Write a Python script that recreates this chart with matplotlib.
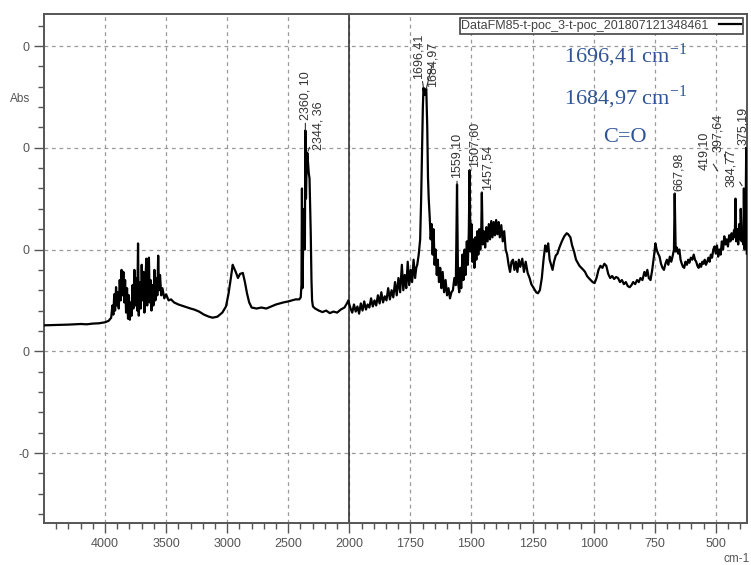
import numpy as np
import matplotlib
matplotlib.use("Agg")
from matplotlib import pyplot as plt
from matplotlib.ticker import FixedLocator

# spectrum (wavenumber cm-1, absorbance)
wavenumbers = [
    4500, 4400, 4300, 4200, 4150, 4100, 4050, 4000, 3970, 3950,
    3940, 3932, 3925, 3918, 3910, 3903, 3895, 3888, 3880, 3872,
    3865, 3858, 3850, 3843, 3836, 3828, 3820, 3812, 3805, 3797,
    3790, 3782, 3775, 3768, 3760, 3752, 3745, 3737, 3730, 3724,
    3716, 3708, 3700, 3692, 3685, 3678, 3670, 3662, 3655, 3648,
    3641, 3634, 3627, 3620, 3612, 3604, 3596, 3588, 3580, 3572,
    3565, 3558, 3550, 3540, 3530, 3515, 3500, 3480, 3460, 3435,
    3400, 3350, 3300, 3270, 3230, 3190, 3150, 3120, 3080, 3040,
    3010, 2990, 2970, 2955, 2945, 2930, 2912, 2895, 2872, 2855,
    2838, 2820, 2800, 2760, 2720, 2680, 2640, 2600, 2570, 2540,
    2500, 2470, 2440, 2410, 2398, 2392, 2388, 2384, 2376, 2370,
    2364, 2360, 2355, 2350, 2344, 2338, 2332, 2326, 2320, 2316,
    2310, 2305, 2298, 2280, 2250, 2220, 2190, 2160, 2130, 2100,
    2070, 2040, 2020, 2008, 2000,
    1995, 1988, 1981, 1974, 1967, 1960, 1953, 1946, 1939, 1932,
    1925, 1918, 1911, 1904, 1897, 1890, 1883, 1876, 1869, 1862,
    1855, 1848, 1841, 1834, 1827, 1820, 1813, 1806, 1799, 1792,
    1785, 1779, 1773, 1767, 1761, 1755, 1749, 1743, 1737, 1731,
    1726, 1722, 1716, 1710, 1706, 1702, 1699, 1696.41, 1692, 1688,
    1684.97, 1681, 1678, 1675, 1671, 1667, 1663, 1659, 1655, 1651,
    1647, 1642, 1638, 1633, 1628, 1623, 1618, 1612, 1606, 1600,
    1594, 1588, 1582, 1576, 1570, 1564, 1559.10, 1555, 1550, 1546,
    1542, 1537, 1533, 1528, 1524, 1519, 1515, 1511, 1507.60, 1504,
    1500, 1496, 1492, 1488, 1484, 1480, 1476, 1472, 1468, 1464,
    1460, 1457.54, 1454, 1449, 1444, 1439, 1434, 1429, 1424, 1419,
    1414, 1409, 1404, 1399, 1394, 1389, 1384, 1378, 1372, 1366,
    1360, 1354, 1348, 1342, 1336, 1330, 1324, 1318, 1312, 1306,
    1300, 1292, 1285, 1278, 1270, 1262, 1255, 1245, 1235, 1228,
    1220, 1212, 1205, 1198, 1192, 1186, 1180, 1174, 1168, 1162,
    1155, 1148, 1140, 1130, 1120, 1110, 1104, 1095, 1088, 1080,
    1072, 1065, 1058, 1050, 1042, 1035, 1027, 1020, 1012, 1004,
    996, 988, 980, 972, 964, 956, 948, 940, 932, 924,
    916, 908, 900, 892, 884, 876, 868, 860, 852, 845,
    838, 830, 822, 815, 808, 800, 792, 786, 780, 774,
    767, 760, 752, 747, 742, 736, 730, 724, 718, 712,
    706, 700, 694, 688, 682, 676, 671, 667.98, 664, 659,
    654, 649, 644, 639, 634, 629, 624, 618, 613, 608,
    602, 596, 590, 585, 580, 575, 570, 565, 560, 555,
    550, 545, 540, 535, 530, 525, 520, 515, 510, 505,
    500, 495, 490, 485, 480, 475, 470, 465, 460, 455,
    450, 445, 440, 435, 430, 425, 422, 419.10, 416, 412,
    408, 404, 400, 397.64, 394, 390, 387, 384.77, 382, 378.5,
    375.19, 373,
]
absorbance = [
    0.0255, 0.0258, 0.0262, 0.0268, 0.0265, 0.0272, 0.0275, 0.0285, 0.0300, 0.0330,
    0.0450, 0.0360, 0.0560, 0.0400, 0.0630, 0.0450, 0.0580, 0.0420, 0.0700, 0.0500,
    0.0800, 0.0550, 0.0780, 0.0480, 0.0700, 0.0380, 0.0620, 0.0320, 0.0550, 0.0310,
    0.0480, 0.0350, 0.0650, 0.0420, 0.0800, 0.0450, 0.0720, 0.0400, 0.1060, 0.0350,
    0.0680, 0.0420, 0.0850, 0.0500, 0.0780, 0.0380, 0.0700, 0.0910, 0.0450, 0.0750,
    0.0920, 0.0480, 0.0700, 0.0400, 0.0650, 0.0450, 0.0800, 0.0500, 0.0720, 0.0550,
    0.0940, 0.0600, 0.0750, 0.0550, 0.0620, 0.0520, 0.0560, 0.0500, 0.0510, 0.0480,
    0.0460, 0.0440, 0.0420, 0.0410, 0.0390, 0.0360, 0.0340, 0.0330, 0.0340, 0.0380,
    0.0440, 0.0560, 0.0720, 0.0850, 0.0820, 0.0780, 0.0720, 0.0760, 0.0770, 0.0680,
    0.0570, 0.0480, 0.0430, 0.0420, 0.0430, 0.0420, 0.0440, 0.0460, 0.0470, 0.0480,
    0.0490, 0.0500, 0.0510, 0.0510, 0.0530, 0.0650, 0.1600, 0.0620, 0.1200, 0.1400,
    0.1000, 0.2170, 0.1500, 0.1800, 0.1950, 0.1850, 0.1750, 0.1700, 0.1400, 0.1160,
    0.0700, 0.0500, 0.0440, 0.0420, 0.0400, 0.0385, 0.0400, 0.0375, 0.0390, 0.0380,
    0.0410, 0.0430, 0.0470, 0.0500, 0.0460,
    0.042, 0.038, 0.046, 0.039, 0.044, 0.037, 0.047, 0.040, 0.049, 0.041,
    0.046, 0.043, 0.052, 0.044, 0.050, 0.045, 0.055, 0.047, 0.058, 0.048,
    0.054, 0.050, 0.062, 0.051, 0.060, 0.053, 0.068, 0.055, 0.072, 0.058,
    0.085, 0.060, 0.075, 0.062, 0.088, 0.065, 0.080, 0.068, 0.090, 0.072,
    0.082, 0.085, 0.095, 0.110, 0.150, 0.200, 0.240, 0.259, 0.252, 0.256,
    0.258, 0.220, 0.171, 0.150, 0.132, 0.110, 0.125, 0.095, 0.120, 0.085,
    0.100, 0.075, 0.090, 0.068, 0.082, 0.062, 0.078, 0.058, 0.070, 0.055,
    0.062, 0.052, 0.058, 0.060, 0.072, 0.065, 0.164, 0.068, 0.058, 0.082,
    0.062, 0.095, 0.070, 0.100, 0.075, 0.108, 0.085, 0.115, 0.178, 0.098,
    0.125, 0.088, 0.110, 0.082, 0.112, 0.090, 0.118, 0.095, 0.120, 0.100,
    0.118, 0.156, 0.105, 0.118, 0.102, 0.122, 0.108, 0.125, 0.110, 0.128,
    0.112, 0.127, 0.114, 0.129, 0.115, 0.127, 0.112, 0.124, 0.108, 0.118,
    0.100, 0.095, 0.085, 0.078, 0.088, 0.090, 0.080, 0.088, 0.078, 0.090,
    0.083, 0.091, 0.078, 0.088, 0.077, 0.072, 0.066, 0.062, 0.058, 0.057,
    0.060, 0.072, 0.090, 0.104, 0.098, 0.106, 0.090, 0.085, 0.080, 0.088,
    0.094, 0.096, 0.102, 0.108, 0.113, 0.116, 0.115, 0.112, 0.104, 0.098,
    0.090, 0.087, 0.084, 0.082, 0.080, 0.078, 0.074, 0.072, 0.070, 0.068,
    0.067, 0.072, 0.080, 0.084, 0.082, 0.086, 0.084, 0.076, 0.072, 0.074,
    0.071, 0.073, 0.072, 0.068, 0.070, 0.066, 0.068, 0.064, 0.063, 0.065,
    0.068, 0.066, 0.070, 0.068, 0.072, 0.070, 0.078, 0.074, 0.080, 0.072,
    0.070, 0.080, 0.095, 0.106, 0.100, 0.096, 0.093, 0.086, 0.082, 0.080,
    0.086, 0.090, 0.085, 0.093, 0.088, 0.094, 0.100, 0.155, 0.098, 0.102,
    0.096, 0.100, 0.090, 0.086, 0.083, 0.082, 0.088, 0.085, 0.090, 0.087,
    0.092, 0.090, 0.095, 0.090, 0.088, 0.084, 0.082, 0.086, 0.083, 0.088,
    0.086, 0.090, 0.085, 0.088, 0.092, 0.088, 0.095, 0.092, 0.100, 0.103,
    0.096, 0.104, 0.093, 0.100, 0.095, 0.108, 0.100, 0.113, 0.105, 0.110,
    0.103, 0.114, 0.108, 0.116, 0.110, 0.119, 0.112, 0.150, 0.108, 0.120,
    0.105, 0.125, 0.110, 0.140, 0.108, 0.120, 0.105, 0.160, 0.100, 0.115,
    0.200, 0.096,
]

# labelled peaks and where the label sits (pixel offset from the peak top)
peak_labels = ["2360, 10", "2344, 36", "1696,41", "1684,97", "1559,10", "1507,60",
               "1457,54", "667,98", "419,10", "397,64", "384,77", "375,19"]
peak_wn = [2360, 2344, 1696.41, 1684.97, 1559.10, 1507.60,
           1457.54, 667.98, 419.10, 397.64, 384.77, 375.19]
label_offsets = [(0, 10), (11, 3), (-5, 9), (6, 2), (0, 6), (5, 3),
                 (6, 3), (4, 3), (-31, 29), (-23, 57), (-13, 1), (-3, 3)]

x_ticks = [4000, 3500, 3000, 2500, 2000, 1750, 1500, 1250, 1000, 750, 500]
y_ticks = [0.3, 0.2, 0.1, 0.0, -0.1]
y_tick_labels = ["0", "0", "0", "0", "-0"]
legend_label = "DataFM85-t-poc_3-t-poc_201807121348461"


# x axis is compressed by 2 above 2000 cm-1
def fwd(x):
    x = np.asarray(x, dtype=float)
    return np.where(x > 2000, 2000 + (x - 2000) * 0.5, x)


def inv(t):
    t = np.asarray(t, dtype=float)
    return np.where(t > 2000, 2000 + (t - 2000) * 2.0, t)


plt.rcParams['font.family'] = ['Liberation Sans', 'DejaVu Sans']

fig = plt.figure(figsize=(7.51, 5.65), dpi=100)
ax = fig.add_axes([44 / 751, 1 - 523 / 565, 703 / 751, 509 / 565])
ax.set_xscale('function', functions=(fwd, inv))

line, = ax.plot(wavenumbers, absorbance, c='black', lw=1.6, label=legend_label, zorder=3)
ax.axvline(2000, color='#333333', lw=1.2, zorder=2)

ax.set_xlim(4500, 372)
ax.set_ylim(-0.1688, 0.3315)

ax.set_xticks(x_ticks, [str(v) for v in x_ticks])
minor_x = list(range(4400, 2000, -100)) + list(range(1950, 370, -50))
ax.xaxis.set_minor_locator(FixedLocator([v for v in minor_x if v not in x_ticks]))
ax.set_yticks(y_ticks, y_tick_labels)
ax.yaxis.set_minor_locator(FixedLocator(list(np.arange(-0.16, 0.34, 0.02))))

ax.grid(True, which='major', color='#9a9a9a', lw=0.9, ls=(0, (3, 3)))
ax.tick_params(which='major', length=7, width=1, color='#555555',
               labelcolor='#555555', labelsize=9)
ax.tick_params(which='minor', length=4, width=1, color='#555555')
for s in ax.spines.values():
    s.set_color('#555555')
    s.set_linewidth(1.4)

# short leader from the bottom of each rotated label towards its peak
stub = 7
for lab, wn, (dx, dy) in zip(peak_labels, peak_wn, label_offsets):
    top = absorbance[wavenumbers.index(wn)]
    dist = np.hypot(dx, dy) * 0.72
    ax.annotate(lab, xy=(wn, top), xytext=(dx, dy), textcoords='offset pixels',
                rotation=90, ha='center', va='bottom', fontsize=9, color='#333333',
                arrowprops=dict(arrowstyle='-', lw=0.8, color='#333333',
                                shrinkA=0, shrinkB=max(0, dist - stub)))

leg = ax.legend(loc='upper right', markerfirst=False, fancybox=False, fontsize=9,
                borderaxespad=0.3, handlelength=1.8, borderpad=0.15,
                edgecolor='#444444', framealpha=1)
leg.get_frame().set_linewidth(1.2)
for t in leg.get_texts():
    t.set_color('#444444')

blue = '#2F5496'
fig.text(625 / 751, 1 - 55 / 565, r"1696,41 cm$^{\mathregular{-1}}$", ha='center', va='center',
         fontsize=16, color=blue, family='Liberation Serif')
fig.text(625 / 751, 1 - 97 / 565, r"1684,97 cm$^{\mathregular{-1}}$", ha='center', va='center',
         fontsize=16, color=blue, family='Liberation Serif')
fig.text(625 / 751, 1 - 138 / 565, "C=O", ha='center', va='center',
         fontsize=16, color=blue, family='Liberation Serif')

fig.text(20 / 751, 1 - 99 / 565, "Abs", ha='center', va='center', fontsize=8.5, color='#555555')
fig.text(737 / 751, 1 - 559 / 565, "cm-1", ha='center', va='center', fontsize=8.5, color='#555555')

fig.savefig('out.png', dpi=100)
